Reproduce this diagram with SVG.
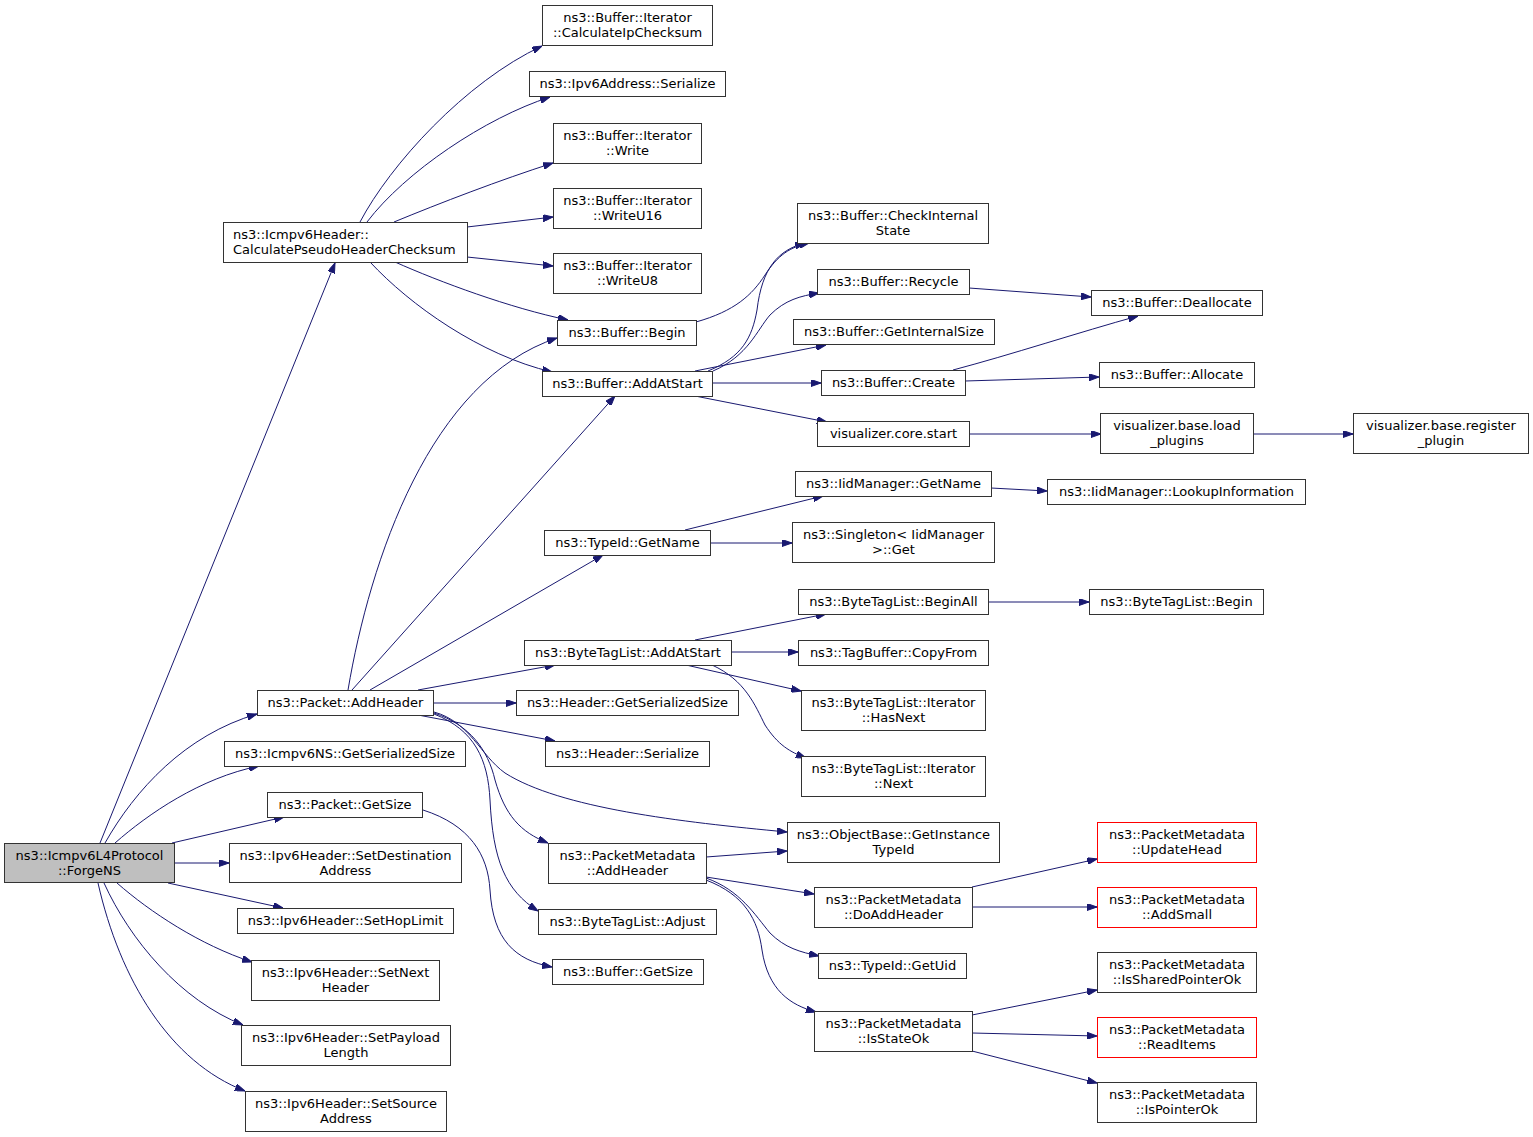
<svg xmlns="http://www.w3.org/2000/svg" width="1533" height="1137" viewBox="0 0 1533 1137">
<style>
.n rect{fill:#ffffff;stroke:#333333;stroke-width:1}
.n.root rect{fill:#bfbfbf}
.n.red rect{stroke:#ff0000}
.n text{font-family:"DejaVu Sans","Liberation Sans",sans-serif;font-size:13px;fill:#000000;text-anchor:middle}
.e path{fill:none;stroke:#191970;stroke-width:1;marker-end:url(#ah)}
</style>
<defs>
<marker id="ah" viewBox="0 0 10 7" refX="10" refY="3.5" markerWidth="10" markerHeight="7" markerUnits="userSpaceOnUse" orient="auto">
<path d="M0,0 L10,3.5 L0,7 z" fill="#191970" stroke="#191970" stroke-width="1"/>
</marker>
</defs>
<rect width="1533" height="1137" fill="#ffffff"/>
<g id="edges" class="e">
<path d="M100,843 L335,263"/>
<path d="M105,843 C135,790 185,735 257,714"/>
<path d="M115,843 C148,814 200,778 259,766"/>
<path d="M172,843 L284,817"/>
<path d="M175,863 L229,863"/>
<path d="M168,883 L283,908"/>
<path d="M117,883 C150,912 200,945 252,962"/>
<path d="M104,883 C130,940 180,1000 243,1025"/>
<path d="M98,883 C120,980 170,1062 245,1091"/>
<path d="M360,222 C390,165 465,82 542,46"/>
<path d="M367,222 C405,172 485,118 550,97"/>
<path d="M394,222 C440,203 500,180 553,163"/>
<path d="M467,227 L553,217"/>
<path d="M467,257 L553,266"/>
<path d="M395,262 C440,282 510,308 568,320"/>
<path d="M370,262 C410,305 480,355 552,372"/>
<path d="M696,322 C735,311 752,295 765,275 C778,255 790,247 809,243"/>
<path d="M708,371 C742,357 752,338 757,310 C762,268 778,250 805,243"/>
<path d="M713,371 C748,356 757,330 770,315 C785,300 800,296 819,293"/>
<path d="M695,371 L826,345"/>
<path d="M712,383 L821,383"/>
<path d="M695,396 L827,422"/>
<path d="M969,288 L1091,297"/>
<path d="M953,370 C1010,355 1080,332 1138,316"/>
<path d="M965,381 L1099,377"/>
<path d="M969,434 L1101,434"/>
<path d="M1254,434 L1353,434"/>
<path d="M991,488 L1047,491"/>
<path d="M685,530 L823,496"/>
<path d="M710,543 L792,543"/>
<path d="M988,602 L1089,602"/>
<path d="M695,640 L826,614"/>
<path d="M731,652 L798,652"/>
<path d="M686,665 L801,691"/>
<path d="M712,665 C745,680 755,705 765,725 C778,745 790,752 806,758"/>
<path d="M348,690 C370,560 430,380 557,338"/>
<path d="M352,690 L615,396"/>
<path d="M370,690 L603,555"/>
<path d="M418,690 L555,665"/>
<path d="M433,703 L516,703"/>
<path d="M418,715 L555,741"/>
<path d="M434,712 C470,722 480,755 505,773 C560,808 680,822 787,832"/>
<path d="M434,713 C470,725 488,750 495,780 C505,815 520,832 548,843"/>
<path d="M434,714 C475,730 488,760 490,800 C493,860 505,890 538,911"/>
<path d="M423,810 C470,825 488,855 490,890 C493,940 515,960 552,967"/>
<path d="M706,857 L787,851"/>
<path d="M706,877 L814,894"/>
<path d="M706,878 C740,890 755,915 770,933 C785,948 800,952 819,956"/>
<path d="M706,880 C745,895 758,920 762,950 C768,990 790,1005 816,1012"/>
<path d="M972,887 L1097,859"/>
<path d="M972,907 L1097,907"/>
<path d="M972,1015 L1097,990"/>
<path d="M972,1033 L1097,1036"/>
<path d="M972,1051 L1097,1083"/>
</g>
<g id="n_ForgeNS" class="n root"><rect x="4.5" y="843.5" width="170" height="39"/><text x="89.5" y="860">ns3::Icmpv6L4Protocol</text><text x="89.5" y="875">::ForgeNS</text></g>
<g id="n_CalcPseudo" class="n"><rect x="223.5" y="222.5" width="244" height="40"/><text x="233" y="239" style="text-anchor:start">ns3::Icmpv6Header::</text><text x="233" y="254" style="text-anchor:start">CalculatePseudoHeaderChecksum</text></g>
<g id="n_CalcIpChecksum" class="n"><rect x="542.5" y="5.5" width="170" height="40"/><text x="627.5" y="22">ns3::Buffer::Iterator</text><text x="627.5" y="37">::CalculateIpChecksum</text></g>
<g id="n_Ipv6AddrSerialize" class="n"><rect x="529.5" y="71.5" width="196" height="25"/><text x="627.5" y="88">ns3::Ipv6Address::Serialize</text></g>
<g id="n_Write" class="n"><rect x="553.5" y="123.5" width="148" height="40"/><text x="627.5" y="140">ns3::Buffer::Iterator</text><text x="627.5" y="155">::Write</text></g>
<g id="n_WriteU16" class="n"><rect x="553.5" y="188.5" width="148" height="40"/><text x="627.5" y="205">ns3::Buffer::Iterator</text><text x="627.5" y="220">::WriteU16</text></g>
<g id="n_WriteU8" class="n"><rect x="553.5" y="253.5" width="148" height="40"/><text x="627.5" y="270">ns3::Buffer::Iterator</text><text x="627.5" y="285">::WriteU8</text></g>
<g id="n_BufferBegin" class="n"><rect x="557.5" y="320.5" width="139" height="25"/><text x="627" y="337">ns3::Buffer::Begin</text></g>
<g id="n_BufferAddAtStart" class="n"><rect x="542.5" y="371.5" width="170" height="25"/><text x="627.5" y="388">ns3::Buffer::AddAtStart</text></g>
<g id="n_CheckInternalState" class="n"><rect x="797.5" y="203.5" width="191" height="40"/><text x="893" y="220">ns3::Buffer::CheckInternal</text><text x="893" y="235">State</text></g>
<g id="n_Recycle" class="n"><rect x="817.5" y="269.5" width="152" height="25"/><text x="893.5" y="286">ns3::Buffer::Recycle</text></g>
<g id="n_GetInternalSize" class="n"><rect x="793.5" y="319.5" width="201" height="25"/><text x="894" y="336">ns3::Buffer::GetInternalSize</text></g>
<g id="n_Create" class="n"><rect x="821.5" y="370.5" width="144" height="25"/><text x="893.5" y="387">ns3::Buffer::Create</text></g>
<g id="n_VizStart" class="n"><rect x="817.5" y="421.5" width="152" height="25"/><text x="893.5" y="438">visualizer.core.start</text></g>
<g id="n_Deallocate" class="n"><rect x="1091.5" y="290.5" width="171" height="25"/><text x="1177" y="307">ns3::Buffer::Deallocate</text></g>
<g id="n_Allocate" class="n"><rect x="1099.5" y="362.5" width="155" height="25"/><text x="1177" y="379">ns3::Buffer::Allocate</text></g>
<g id="n_LoadPlugins" class="n"><rect x="1100.5" y="413.5" width="153" height="40"/><text x="1177" y="430">visualizer.base.load</text><text x="1177" y="445">_plugins</text></g>
<g id="n_RegisterPlugin" class="n"><rect x="1353.5" y="413.5" width="175" height="40"/><text x="1441" y="430">visualizer.base.register</text><text x="1441" y="445">_plugin</text></g>
<g id="n_IidGetName" class="n"><rect x="795.5" y="471.5" width="196" height="25"/><text x="893.5" y="488">ns3::IidManager::GetName</text></g>
<g id="n_LookupInformation" class="n"><rect x="1047.5" y="479.5" width="258" height="25"/><text x="1176.5" y="496">ns3::IidManager::LookupInformation</text></g>
<g id="n_TypeIdGetName" class="n"><rect x="544.5" y="530.5" width="166" height="25"/><text x="627.5" y="547">ns3::TypeId::GetName</text></g>
<g id="n_SingletonGet" class="n"><rect x="792.5" y="522.5" width="202" height="40"/><text x="893.5" y="539">ns3::Singleton&lt; IidManager</text><text x="893.5" y="554">&gt;::Get</text></g>
<g id="n_BeginAll" class="n"><rect x="798.5" y="589.5" width="190" height="25"/><text x="893.5" y="606">ns3::ByteTagList::BeginAll</text></g>
<g id="n_BTLBegin" class="n"><rect x="1089.5" y="589.5" width="174" height="25"/><text x="1176.5" y="606">ns3::ByteTagList::Begin</text></g>
<g id="n_BTLAddAtStart" class="n"><rect x="524.5" y="640.5" width="207" height="25"/><text x="628" y="657">ns3::ByteTagList::AddAtStart</text></g>
<g id="n_CopyFrom" class="n"><rect x="798.5" y="640.5" width="190" height="25"/><text x="893.5" y="657">ns3::TagBuffer::CopyFrom</text></g>
<g id="n_HasNext" class="n"><rect x="801.5" y="690.5" width="184" height="40"/><text x="893.5" y="707">ns3::ByteTagList::Iterator</text><text x="893.5" y="722">::HasNext</text></g>
<g id="n_Next" class="n"><rect x="801.5" y="756.5" width="184" height="40"/><text x="893.5" y="773">ns3::ByteTagList::Iterator</text><text x="893.5" y="788">::Next</text></g>
<g id="n_PacketAddHeader" class="n"><rect x="257.5" y="690.5" width="176" height="25"/><text x="345.5" y="707">ns3::Packet::AddHeader</text></g>
<g id="n_HeaderGetSerializedSize" class="n"><rect x="516.5" y="690.5" width="222" height="25"/><text x="627.5" y="707">ns3::Header::GetSerializedSize</text></g>
<g id="n_HeaderSerialize" class="n"><rect x="545.5" y="741.5" width="164" height="25"/><text x="627.5" y="758">ns3::Header::Serialize</text></g>
<g id="n_Icmpv6NSGetSerializedSize" class="n"><rect x="224.5" y="741.5" width="241" height="25"/><text x="345" y="758">ns3::Icmpv6NS::GetSerializedSize</text></g>
<g id="n_PacketGetSize" class="n"><rect x="267.5" y="792.5" width="155" height="25"/><text x="345" y="809">ns3::Packet::GetSize</text></g>
<g id="n_SetDestination" class="n"><rect x="229.5" y="843.5" width="232" height="39"/><text x="345.5" y="860">ns3::Ipv6Header::SetDestination</text><text x="345.5" y="875">Address</text></g>
<g id="n_SetHopLimit" class="n"><rect x="237.5" y="908.5" width="216" height="25"/><text x="345.5" y="925">ns3::Ipv6Header::SetHopLimit</text></g>
<g id="n_SetNextHeader" class="n"><rect x="251.5" y="960.5" width="188" height="40"/><text x="345.5" y="977">ns3::Ipv6Header::SetNext</text><text x="345.5" y="992">Header</text></g>
<g id="n_SetPayloadLength" class="n"><rect x="241.5" y="1025.5" width="209" height="40"/><text x="346" y="1042">ns3::Ipv6Header::SetPayload</text><text x="346" y="1057">Length</text></g>
<g id="n_SetSourceAddress" class="n"><rect x="245.5" y="1091.5" width="201" height="40"/><text x="346" y="1108">ns3::Ipv6Header::SetSource</text><text x="346" y="1123">Address</text></g>
<g id="n_GetInstanceTypeId" class="n"><rect x="787.5" y="822.5" width="212" height="40"/><text x="893.5" y="839">ns3::ObjectBase::GetInstance</text><text x="893.5" y="854">TypeId</text></g>
<g id="n_PMAddHeader" class="n"><rect x="548.5" y="843.5" width="158" height="40"/><text x="627.5" y="860">ns3::PacketMetadata</text><text x="627.5" y="875">::AddHeader</text></g>
<g id="n_BTLAdjust" class="n"><rect x="538.5" y="909.5" width="178" height="25"/><text x="627.5" y="926">ns3::ByteTagList::Adjust</text></g>
<g id="n_BufferGetSize" class="n"><rect x="552.5" y="959.5" width="151" height="25"/><text x="628" y="976">ns3::Buffer::GetSize</text></g>
<g id="n_DoAddHeader" class="n"><rect x="814.5" y="887.5" width="158" height="40"/><text x="893.5" y="904">ns3::PacketMetadata</text><text x="893.5" y="919">::DoAddHeader</text></g>
<g id="n_GetUid" class="n"><rect x="818.5" y="953.5" width="148" height="25"/><text x="892.5" y="970">ns3::TypeId::GetUid</text></g>
<g id="n_IsStateOk" class="n"><rect x="814.5" y="1011.5" width="158" height="40"/><text x="893.5" y="1028">ns3::PacketMetadata</text><text x="893.5" y="1043">::IsStateOk</text></g>
<g id="n_UpdateHead" class="n red"><rect x="1097.5" y="822.5" width="159" height="40"/><text x="1177" y="839">ns3::PacketMetadata</text><text x="1177" y="854">::UpdateHead</text></g>
<g id="n_AddSmall" class="n red"><rect x="1097.5" y="887.5" width="159" height="40"/><text x="1177" y="904">ns3::PacketMetadata</text><text x="1177" y="919">::AddSmall</text></g>
<g id="n_IsSharedPointerOk" class="n"><rect x="1097.5" y="952.5" width="159" height="40"/><text x="1177" y="969">ns3::PacketMetadata</text><text x="1177" y="984">::IsSharedPointerOk</text></g>
<g id="n_ReadItems" class="n red"><rect x="1097.5" y="1017.5" width="159" height="40"/><text x="1177" y="1034">ns3::PacketMetadata</text><text x="1177" y="1049">::ReadItems</text></g>
<g id="n_IsPointerOk" class="n"><rect x="1097.5" y="1082.5" width="159" height="40"/><text x="1177" y="1099">ns3::PacketMetadata</text><text x="1177" y="1114">::IsPointerOk</text></g>
</svg>
